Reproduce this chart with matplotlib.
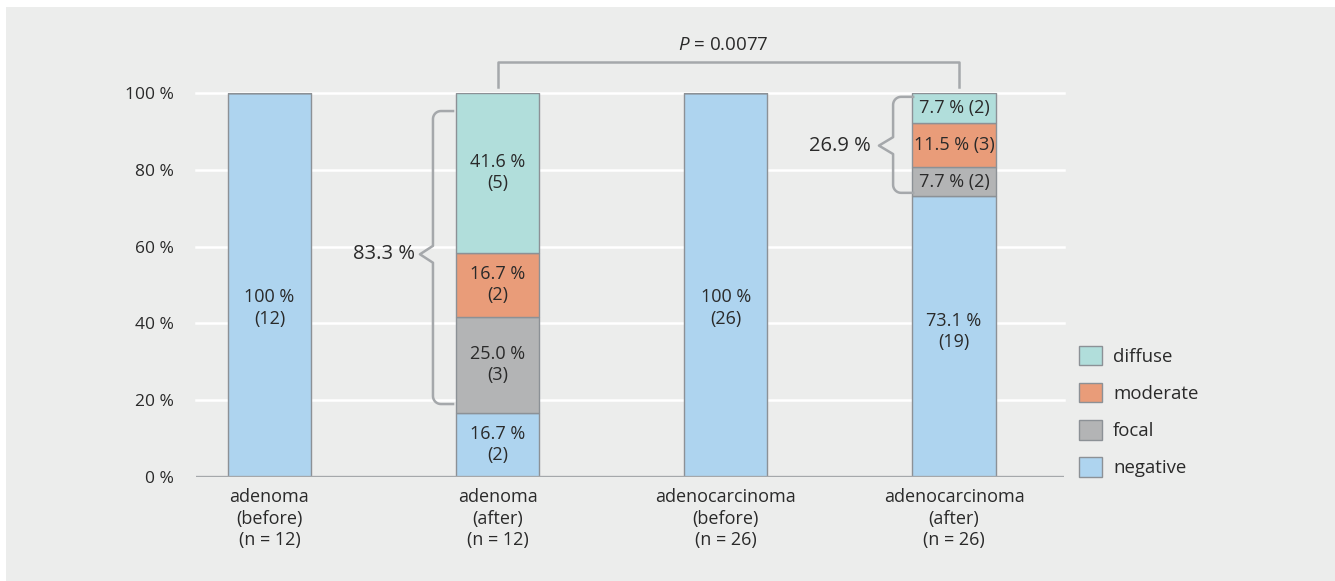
import numpy as np
import matplotlib.pyplot as plt
from matplotlib.patches import Rectangle, Patch

plt.rcParams['font.family'] = ['Open Sans', 'DejaVu Sans']
plt.rcParams['mathtext.fontset'] = 'custom'
plt.rcParams['mathtext.it'] = 'Open Sans:italic'
plt.rcParams['mathtext.rm'] = 'Open Sans'

categories = ['adenoma\n(before)\n(n = 12)', 'adenoma\n(after)\n(n = 12)',
              'adenocarcinoma\n(before)\n(n = 26)', 'adenocarcinoma\n(after)\n(n = 26)']
series = ['negative', 'focal', 'moderate', 'diffuse']
negative = [100, 16.7, 100, 73.1]
focal = [0, 25.0, 0, 7.7]
moderate = [0, 16.7, 0, 11.5]
diffuse = [0, 41.6, 0, 7.7]
n_negative = [12, 2, 26, 19]
n_focal = [0, 3, 0, 2]
n_moderate = [0, 2, 0, 3]
n_diffuse = [0, 5, 0, 2]
colors = {'negative': '#aed4ef', 'focal': '#b3b4b5', 'moderate': '#e99c79', 'diffuse': '#b1dedb'}

values = {'negative': negative, 'focal': focal, 'moderate': moderate, 'diffuse': diffuse}
counts = {'negative': n_negative, 'focal': n_focal, 'moderate': n_moderate, 'diffuse': n_diffuse}

txt = '#2a2a2a'
line_gray = '#a5a8ab'

fig = plt.figure(figsize=(13.35, 5.81), dpi=100, facecolor='white')
fig.patches.append(Rectangle((6/1335, 0), 1, 574/581, transform=fig.transFigure,
                             facecolor='#ecedec', edgecolor='none', zorder=-10))
ax = fig.add_axes([196/1335, 104/581, 868/1335, 384/581])
ax.set_facecolor('none')
x = np.arange(len(categories))
ax.set_xlim(-0.322, 3.482)
ax.set_ylim(0, 100)

for yv in [20, 40, 60, 80, 100]:
    ax.axhline(yv, color='white', lw=1.8, zorder=0, clip_on=False)
ax.axhline(0, color=line_gray, lw=2.4, zorder=3)

bottom = np.zeros(len(categories))
for s in series:
    v = np.array(values[s])
    ax.bar(x, v, 0.364, bottom=bottom, color=colors[s], edgecolor='#8c9196', lw=1.0, zorder=2)
    for i in range(len(x)):
        if v[i] > 0:
            ypos = bottom[i] + v[i] / 2
            if v[i] < 15:
                lab = f'{v[i]:.1f} % ({counts[s][i]})'
            elif v[i] == 100:
                lab = f'100 %\n({counts[s][i]})'
                ypos = 44
            else:
                lab = f'{v[i]:.1f} %\n({counts[s][i]})'
                if s == 'negative' and v[i] > 50:
                    ypos = 38
            ax.text(x[i], ypos, lab, ha='center', va='center',
                    fontsize=13, color=txt, linespacing=1.22, zorder=4)
    bottom += v

for s in ['left', 'right', 'top', 'bottom']:
    ax.spines[s].set_visible(False)
ax.set_yticks([0, 20, 40, 60, 80, 100])
ax.set_yticklabels([f'{t} %' for t in [0, 20, 40, 60, 80, 100]], fontsize=12.5, color=txt)
ax.set_xticks(x)
ax.set_xticklabels(categories, fontsize=13, color=txt, linespacing=1.25)
ax.tick_params(length=0)
ax.tick_params(axis='x', pad=8)
ax.tick_params(axis='y', pad=16)


def draw_brace(ax, xv, y0, y1, ytip, arm, tip, rx=0.035, ry=2.1, dy=2.2):
    t = np.linspace(0, np.pi / 2, 12)
    top_x = [xv + arm] + list(xv + rx - rx * np.sin(t))
    top_y = [y1] + list(y1 - ry + ry * np.cos(t))
    pts_x = top_x + [xv, xv - tip, xv, xv]
    pts_y = top_y + [ytip + dy, ytip, ytip - dy, y0 + ry]
    bot_x = list(xv + rx - rx * np.cos(t)) + [xv + arm]
    bot_y = list(y0 + ry - ry * np.sin(t)) + [y0]
    ax.plot(pts_x + bot_x, pts_y + bot_y, color=line_gray, lw=1.8, clip_on=False,
            solid_joinstyle='round', zorder=3)


draw_brace(ax, 0.7165, 19.0, 95.3, 58.0, 0.088, 0.057)
ax.text(0.6376, 58.0, '83.3 %', ha='right', va='center', fontsize=14.5, color=txt)
draw_brace(ax, 2.733, 74.0, 99.0, 86.3, 0.088, 0.062)
ax.text(2.636, 86.3, '26.9 %', ha='right', va='center', fontsize=14.5, color=txt)

ax.plot([1, 1, 3.02, 3.02], [101.6, 108.1, 108.1, 101.6], color=line_gray, lw=1.8,
        clip_on=False, zorder=3)
ax.text(1.99, 112.5, '$P$ = 0.0077', ha='center', va='center', fontsize=13.5, color=txt)

handles = [Patch(facecolor=colors[s], edgecolor='#8c9196', lw=1.0) for s in series[::-1]]
fig.legend(handles, series[::-1], loc='upper left', bbox_to_anchor=(1079/1335, 0.405),
           frameon=False, fontsize=13.4, handlelength=1.24, handleheight=1.24,
           labelspacing=0.92, handletextpad=0.6, borderpad=0, borderaxespad=0,
           labelcolor=txt)

fig.savefig('out.png', dpi=100, facecolor=fig.get_facecolor())
